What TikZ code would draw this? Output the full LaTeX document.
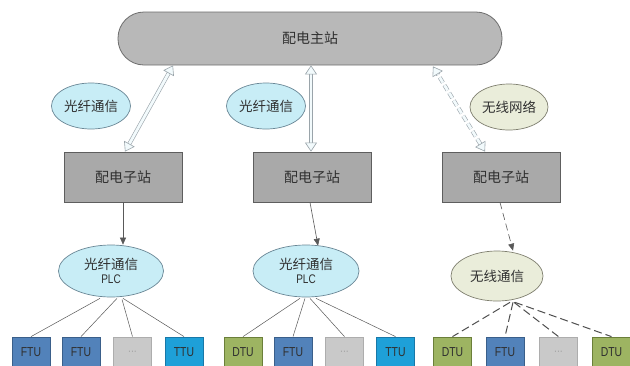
\documentclass[tikz,border=0pt]{standalone}
\usepackage{fontspec}
\newfontfamily\cjk{Noto Sans CJK SC}
\newfontfamily\boxfont[FakeStretch=0.8]{Liberation Sans}
\usetikzlibrary{shapes.geometric,arrows.meta,calc}
\definecolor{txt}{HTML}{303030}
\definecolor{mainfill}{HTML}{B8B8B8}
\definecolor{mainline}{HTML}{6E6E6E}
\definecolor{subfill}{HTML}{A9A9A9}
\definecolor{subline}{HTML}{5E5E5E}
\definecolor{bluefill}{HTML}{C8EDF6}
\definecolor{blueline}{HTML}{6A8796}
\definecolor{beigefill}{HTML}{EAEDDA}
\definecolor{beigeline}{HTML}{7F7F6F}
\definecolor{ftu}{HTML}{5282BA}
\definecolor{ftuline}{HTML}{3A5F8A}
\definecolor{ttu}{HTML}{1EA0D8}
\definecolor{ttuline}{HTML}{1878A8}
\definecolor{dtu}{HTML}{9DB462}
\definecolor{dtuline}{HTML}{6B7F3A}
\definecolor{dots}{HTML}{C9C9C9}
\definecolor{dotsline}{HTML}{ADADAD}
\definecolor{arrline}{HTML}{9AA4AA}
\definecolor{arrin}{HTML}{F2FAFC}
\tikzset{
  mainbox/.style={draw=mainline, fill=mainfill, line width=0.8pt, rounded corners=26pt,
    minimum width=384pt, minimum height=53pt, font=\cjk\fontsize{14}{16}\selectfont, text=txt},
  subbox/.style={draw=subline, fill=subfill, line width=0.8pt,
    minimum width=118pt, minimum height=50pt, font=\cjk\fontsize{14}{16}\selectfont, text=txt},
  smallell/.style={ellipse, draw=blueline, fill=bluefill, line width=0.7pt, inner sep=0pt,
    minimum width=79pt, minimum height=46pt, font=\cjk\fontsize{13.5}{15}\selectfont, text=txt},
  bigell/.style={ellipse, draw=blueline, fill=bluefill, line width=0.7pt, inner sep=0pt,
    minimum width=105pt, minimum height=52pt, align=center, font=\cjk\fontsize{13.5}{15}\selectfont, text=txt},
  beige/.style={draw=beigeline, fill=beigefill},
  unit/.style={minimum width=38pt, minimum height=30pt, line width=0.8pt, inner sep=0pt,
    font=\boxfont\fontsize{13}{14}\selectfont, text=txt},
  ftubox/.style={unit, draw=ftuline, fill=ftu},
  ttubox/.style={unit, draw=ttuline, fill=ttu},
  dtubox/.style={unit, draw=dtuline, fill=dtu},
  dotbox/.style={unit, draw=dotsline, fill=dots, text=gray!70},
  dblarrow/.style={draw=arrline, double=arrin, double distance=2.8pt, line width=0.6pt,
    {Triangle[length=9pt,width=12pt,fill=arrin]}-{Triangle[length=9pt,width=12pt,fill=arrin]}},
  thinarrow/.style={draw=txt!80, line width=0.6pt, -{Triangle[length=7pt,width=6pt]}},
  fanline/.style={draw=txt!80, line width=0.5pt},
  fandash/.style={draw=txt!85, line width=1pt, dash pattern=on 8pt off 4pt}
}
\begin{document}
\begin{tikzpicture}[x=1pt,y=-1pt]
\useasboundingbox[fill=white] (0,0) rectangle (630,365);
\begin{scope}
\clip (0,0) rectangle (630,365);
% main station
\node[mainbox] (main) at (310,38.5) {配电主站};
% substations
\node[subbox] (s1) at (123,177) {配电子站};
\node[subbox] (s2) at (312,177) {配电子站};
\node[subbox] (s3) at (501,177) {配电子站};
% upper ellipses
\node[smallell] (e1) at (91,106) {光纤通信};
\node[smallell] (e2) at (266,106) {光纤通信};
\node[smallell, beige, minimum width=78pt] (e3) at (509,107) {无线网络};
% lower ellipses
\node[bigell] (p1) at (111,271) {光纤通信\\[-1pt]{\boxfont\fontsize{12.5}{13}\selectfont PLC}};
\node[bigell, minimum width=106pt] (p2) at (306,271) {光纤通信\\[-1pt]{\boxfont\fontsize{12.5}{13}\selectfont PLC}};
\node[bigell, beige, minimum width=92pt, minimum height=50pt] (p3) at (497,276) {无线通信};
% bottom units
\node[ftubox] (u1) at (31,352) {FTU};
\node[ftubox] (u2) at (81,352) {FTU};
\node[dotbox] (u3) at (132.5,352) {...};
\node[ttubox] (u4) at (184,352) {TTU};
\node[dtubox] (u5) at (243,352) {DTU};
\node[ftubox] (u6) at (293,352) {FTU};
\node[dotbox] (u7) at (344.5,352) {...};
\node[ttubox] (u8) at (395.5,352) {TTU};
\node[dtubox] (u9) at (452.5,352) {DTU};
\node[ftubox] (u10) at (505,352) {FTU};
\node[dotbox] (u11) at (558.5,352) {...};
\node[dtubox] (u12) at (611.5,352) {DTU};
% double arrows between main and substations
\draw[dblarrow] ($(s1.north)+(2,0)$) -- ($(main.south)+(-137,0)$);
\draw[dblarrow] ($(s2.north)+(-1,0)$) -- ($(main.south)+(1,0)$);
\draw[dblarrow, dash pattern=on 6pt off 3pt] ($(s3.north)+(-16,0)$) -- ($(main.south)+(123,1)$);
% substations to lower ellipses
\draw[thinarrow] (s1.south) -- (s1.south |- p1.north);
\draw[thinarrow] ($(s2.south)+(-2,0)$) -- ($(p2.north)+(12,1)$);
\draw[thinarrow, dash pattern=on 7pt off 4pt] ($(s3.south)+(-1,0)$) -- ($(p3.north)+(16,0)$);
% fan lines
\draw[fanline] ($(p1.south)+(-11,1)$) -- (u1.north);
\draw[fanline] ($(p1.south)+(6,1)$) -- (u2.north);
\draw[fanline] ($(p1.south)+(11,2)$) -- (u3.north);
\draw[fanline] ($(p1.south)+(12,1)$) -- (u4.north);
\draw[fanline] ($(p2.south)+(-6,1)$) -- (u5.north);
\draw[fanline] ($(p2.south)+(-1,1)$) -- (u6.north);
\draw[fanline] ($(p2.south)+(4,1)$) -- (u7.north);
\draw[fanline] ($(p2.south)+(10,1)$) -- (u8.north);
\draw[fandash] ($(p3.south)+(13,1)$) -- (u9.north);
\draw[fandash] ($(p3.south)+(16,1)$) -- (u10.north);
\draw[fandash] ($(p3.south)+(17,1)$) -- (u11.north);
\draw[fandash] ($(p3.south)+(18,1)$) -- (u12.north);
\end{scope}
\end{tikzpicture}
\end{document}
